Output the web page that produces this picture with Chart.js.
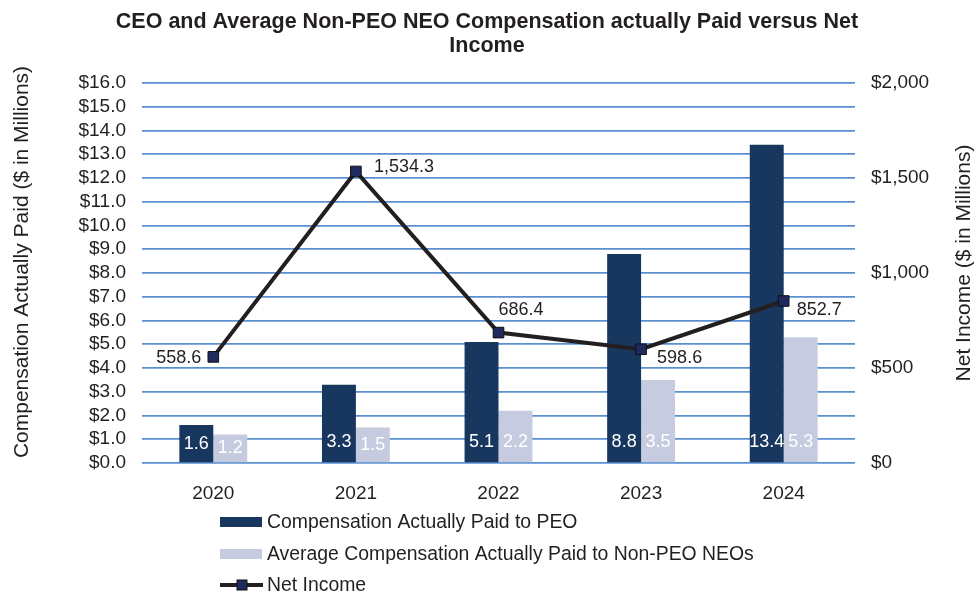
<!DOCTYPE html>
<html>
<head>
<meta charset="utf-8">
<script src="https://cdn.jsdelivr.net/npm/chart.js@4.4.1/dist/chart.umd.min.js"></script>
<style>
  body { margin: 0; background: #fff; }
  #wrap { width: 977px; height: 592px; }
</style>
</head>
<body>
<div id="wrap"><canvas id="cap" width="977" height="592"></canvas></div>
<script>
const years = ['2020', '2021', '2022', '2023', '2024'];
const peoCap = [1.6, 3.3, 5.1, 8.8, 13.4];
const neoCap = [1.2, 1.5, 2.2, 3.5, 5.3];
const netIncome = [558.6, 1534.3, 686.4, 598.6, 852.7];
const netIncomeLabels = ['558.6', '1,534.3', '686.4', '598.6', '852.7'];

const titleLines = ['CEO and Average Non-PEO NEO Compensation actually Paid versus Net', 'Income'];
const leftTitle = 'Compensation Actually Paid ($ in Millions)';
const rightTitle = 'Net Income ($ in Millions)';

const DARK = '#17375e';
const LIGHT = '#c6cbe0';
const TEXT = '#231f20';
const FONT = 'Arial, "Liberation Sans", sans-serif';

// where each net income label sits relative to its point: [dx, dy, align]
const lineLabelPos = [[-12, 1, 'right'], [18, -4, 'left'], [0, -23, 'left'], [16, 9, 'left'], [13, 9, 'left']];

const extras = {
    id: 'extras',
    afterDatasetsDraw(chart) {
        const ctx = chart.ctx;
        ctx.save();
        ctx.font = '18px ' + FONT;
        ctx.textBaseline = 'middle';
        // bar labels
        [0, 1].forEach(di => {
            const meta = chart.getDatasetMeta(di);
            const vals = chart.data.datasets[di].data;
            ctx.fillStyle = '#ffffff';
            ctx.textAlign = 'center';
            meta.data.forEach((bar, i) => {
                const y = Math.max(bar.base - 20, (bar.y + bar.base) / 2);
                ctx.fillText(vals[i].toFixed(1), bar.x, y);
            });
        });
        // line labels
        const lm = chart.getDatasetMeta(2);
        ctx.fillStyle = TEXT;
        lm.data.forEach((pt, i) => {
            const p = lineLabelPos[i];
            ctx.textAlign = p[2];
            ctx.fillText(netIncomeLabels[i], pt.x + p[0], pt.y + p[1]);
        });
        ctx.restore();
    },
    afterDraw(chart) {
        const ctx = chart.ctx;
        ctx.save();
        // title
        ctx.fillStyle = TEXT;
        ctx.font = 'bold 21.5px ' + FONT;
        ctx.textAlign = 'center';
        ctx.textBaseline = 'middle';
        ctx.fillText(titleLines[0], 487, 22);
        ctx.fillText(titleLines[1], 487, 46);
        // axis titles
        ctx.font = '21px ' + FONT;
        ctx.save();
        ctx.translate(22, 262);
        ctx.rotate(-Math.PI / 2);
        ctx.fillText(leftTitle, 0, 0);
        ctx.restore();
        ctx.save();
        ctx.translate(964, 263);
        ctx.rotate(-Math.PI / 2);
        ctx.fillText(rightTitle, 0, 0);
        ctx.restore();
        // legend
        const ds = chart.data.datasets;
        const rows = [522, 554, 585];
        ctx.font = '19.4px ' + FONT;
        ctx.textAlign = 'left';
        ds.forEach((d, i) => {
            const y = rows[i];
            if (d.type === 'line') {
                ctx.strokeStyle = d.borderColor;
                ctx.lineWidth = 4;
                ctx.beginPath();
                ctx.moveTo(220, y);
                ctx.lineTo(263, y);
                ctx.stroke();
                ctx.fillStyle = d.pointBackgroundColor;
                ctx.fillRect(237, y - 5, 10, 10);
                ctx.strokeStyle = d.pointBorderColor;
                ctx.lineWidth = 1;
                ctx.strokeRect(237, y - 5, 10, 10);
            } else {
                ctx.fillStyle = d.backgroundColor;
                ctx.fillRect(220, y - 5, 42, 10);
            }
            ctx.fillStyle = TEXT;
            ctx.fillText(d.label, 267, y + 1);
        });
        ctx.restore();
    }
};

new Chart(document.getElementById('cap'), {
    data: {
        labels: years,
        datasets: [
            { type: 'bar', label: 'Compensation Actually Paid to PEO', data: peoCap, backgroundColor: DARK,
              yAxisID: 'y', order: 1, barPercentage: 1, categoryPercentage: 0.476 },
            { type: 'bar', label: 'Average Compensation Actually Paid to Non-PEO NEOs', data: neoCap, backgroundColor: LIGHT,
              yAxisID: 'y', order: 1, barPercentage: 1, categoryPercentage: 0.476 },
            { type: 'line', label: 'Net Income', data: netIncome, yAxisID: 'y1', order: 0,
              borderColor: TEXT, borderWidth: 4, pointStyle: 'rect', pointRadius: 7.5,
              pointBackgroundColor: '#1f2a5e', pointBorderColor: '#111111', pointBorderWidth: 1 }
        ]
    },
    options: {
        responsive: false,
        animation: false,
        layout: { padding: { top: 83 } },
        plugins: { legend: { display: false }, tooltip: { enabled: false }, title: { display: false } },
        scales: {
            x: {
                grid: { display: false },
                border: { display: false },
                ticks: { color: TEXT, font: { size: 19, family: FONT }, padding: 11 },
                afterFit(s) { s.height = 129; }
            },
            y: {
                position: 'left',
                min: 0, max: 16,
                grid: { color: '#5a8fd0', lineWidth: 1.75, drawTicks: false },
                border: { display: false },
                ticks: { stepSize: 1, autoSkip: false, color: TEXT, font: { size: 19, family: FONT }, padding: 16,
                         callback: v => '$' + v.toFixed(1) },
                afterFit(s) { s.width = 142; }
            },
            y1: {
                position: 'right',
                min: 0, max: 2000,
                grid: { display: false, drawTicks: false },
                border: { display: false },
                ticks: { stepSize: 500, autoSkip: false, color: TEXT, font: { size: 19, family: FONT }, padding: 16,
                         callback: v => '$' + v.toLocaleString('en-US') },
                afterFit(s) { s.width = 122; }
            }
        }
    },
    plugins: [extras]
});
</script>
</body>
</html>
